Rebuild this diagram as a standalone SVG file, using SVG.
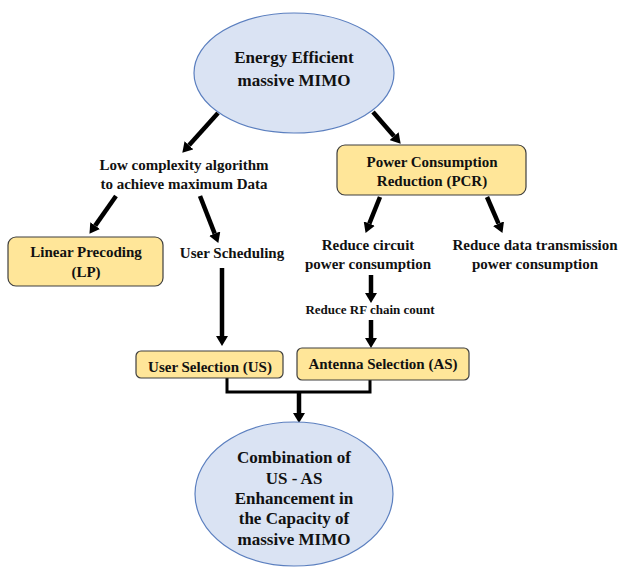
<svg xmlns="http://www.w3.org/2000/svg" width="620" height="568" viewBox="0 0 620 568">
<style>
.t{font-family:"Liberation Serif","Times New Roman",serif;font-weight:bold;fill:#111;text-anchor:middle}
.ell{fill:#DAE3F3;stroke:#5B7FBF;stroke-width:1.2}
.box{fill:#FFE699;stroke:#3F3F3F;stroke-width:1.2}
.ar{stroke:#000;stroke-width:4.5;fill:none;marker-end:url(#ah)}
</style>
<defs>
<marker id="ah" viewBox="0 -6 10 12" markerUnits="userSpaceOnUse" markerWidth="10" markerHeight="12" refX="0" refY="0" orient="auto">
<path d="M0,-6 L10,0 L0,6 z" fill="#000"/>
</marker>
</defs>
<rect width="620" height="568" fill="#fff"/>
<g id="connectors">
<line class="ar" x1="218" y1="113" x2="189" y2="145.3"/>
<line class="ar" x1="373" y1="112" x2="394.1" y2="136.2"/>
<line class="ar" x1="116" y1="196" x2="95.2" y2="225.6"/>
<line class="ar" x1="200" y1="196" x2="214.7" y2="233.6"/>
<line class="ar" x1="222" y1="268" x2="222" y2="336"/>
<line class="ar" x1="380" y1="197" x2="369.3" y2="223.6"/>
<line class="ar" x1="487" y1="197" x2="498.5" y2="223.7"/>
<line class="ar" x1="371" y1="275" x2="371" y2="293"/>
<line class="ar" x1="371" y1="320" x2="371" y2="338"/>
<path d="M227,378 V392 H370 V380" stroke="#000" stroke-width="3" fill="none"/>
<line class="ar" x1="299" y1="392" x2="299" y2="413"/>
</g>
<g id="energy">
<ellipse class="ell" cx="294" cy="73" rx="100" ry="60"/>
<text class="t" x="294" y="63" font-size="17">Energy Efficient</text>
<text class="t" x="294" y="86" font-size="17">massive MIMO</text>
</g>
<g id="lowcomplexity">
<text class="t" x="184" y="170" font-size="15">Low complexity algorithm</text>
<text class="t" x="184" y="189" font-size="15">to achieve maximum Data</text>
</g>
<g id="pcr">
<rect class="box" x="337" y="145" width="189" height="50" rx="8"/>
<text class="t" x="432" y="167" font-size="15">Power Consumption</text>
<text class="t" x="432" y="186" font-size="15">Reduction (PCR)</text>
</g>
<g id="lp">
<rect class="box" x="8" y="237" width="155" height="49" rx="8"/>
<text class="t" x="86" y="257" font-size="15">Linear Precoding</text>
<text class="t" x="86" y="277" font-size="15">(LP)</text>
</g>
<g id="userscheduling">
<text class="t" x="232" y="258" font-size="15">User Scheduling</text>
</g>
<g id="circuit">
<text class="t" x="368" y="250" font-size="15">Reduce circuit</text>
<text class="t" x="368" y="269" font-size="15">power consumption</text>
</g>
<g id="datatx">
<text class="t" x="535" y="250" font-size="15">Reduce data transmission</text>
<text class="t" x="535" y="269" font-size="15">power consumption</text>
</g>
<g id="rfchain">
<text class="t" x="370" y="314" font-size="13">Reduce RF chain count</text>
</g>
<g id="us">
<rect class="box" x="136" y="351" width="147" height="27" rx="5"/>
<text class="t" x="210" y="372" font-size="15">User Selection (US)</text>
</g>
<g id="as">
<rect class="box" x="297" y="348" width="172" height="32" rx="5"/>
<text class="t" x="383" y="369" font-size="15">Antenna Selection (AS)</text>
</g>
<g id="combination">
<ellipse class="ell" cx="294" cy="494" rx="99" ry="72"/>
<text class="t" x="294" y="463" font-size="17">Combination of</text>
<text class="t" x="294" y="484" font-size="17">US - AS</text>
<text class="t" x="294" y="504" font-size="17">Enhancement in</text>
<text class="t" x="294" y="524" font-size="17">the Capacity of</text>
<text class="t" x="294" y="545" font-size="17">massive MIMO</text>
</g>
</svg>
